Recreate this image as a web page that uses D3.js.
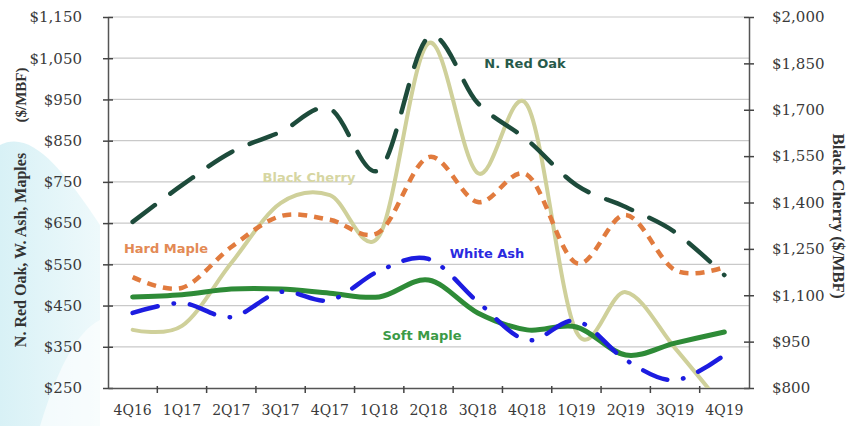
<!DOCTYPE html>
<html><head><meta charset="utf-8">
<script src="https://cdn.jsdelivr.net/npm/d3@7/dist/d3.min.js"></script>
<style>body{margin:0;background:#fff}svg{display:block}</style>
</head><body>
<svg id="c" width="867" height="426"></svg>
<script>
const quarters = ["4Q16","1Q17","2Q17","3Q17","4Q17","1Q18","2Q18","3Q18","4Q18","1Q19","2Q19","3Q19","4Q19"];
const redOak    = [653, 742, 822, 871, 927, 779, 1101, 941, 852, 742, 689, 628, 524];
const hardMaple = [519, 493, 592, 667, 658, 628, 810, 701, 767, 553, 670, 536, 543];
const whiteAsh  = [432, 456, 422, 483, 463, 534, 563, 459, 366, 413, 318, 269, 330];
const softMaple = [471, 476, 490, 490, 480, 471, 512, 432, 391, 398, 330, 359, 386];
const blackCherry = [988, 1001, 1204, 1398, 1424, 1292, 1915, 1495, 1715, 981, 1110, 929, 735];
const leftTicks = [250,350,450,550,650,750,850,950,1050,1150];
const rightTicks = [800,950,1100,1250,1400,1550,1700,1850,2000];

const svg = d3.select("#c");
const L = 108, R = 749, T = 17, B = 388;

// decorative background wash
const defs = svg.append("defs");
const g1 = defs.append("linearGradient").attr("id","wash").attr("x1","0").attr("y1","0").attr("x2","1").attr("y2","0");
g1.append("stop").attr("offset","0").attr("stop-color","#d8f1f6");
g1.append("stop").attr("offset","1").attr("stop-color","#eef9fb");
svg.append("path").attr("d","M0,145 C30,130 60,165 100,225 L100,426 L0,426 Z").attr("fill","url(#wash)");
svg.append("path").attr("d","M40,426 C60,360 80,330 100,320 L100,426 Z").attr("fill","#ffffff").attr("opacity",0.6);

defs.append("clipPath").attr("id","plot").append("rect").attr("x",L).attr("y",T-10).attr("width",R-L).attr("height",B-T+10);

const x = d3.scaleBand().domain(quarters).range([L,R]);
const xc = q => x(q) + x.bandwidth()/2;
const yL = d3.scaleLinear().domain([250,1150]).range([B,T]);
const yR = d3.scaleLinear().domain([800,2000]).range([B,T]);

// gridlines
svg.append("g").selectAll("line").data(leftTicks.slice(1)).join("line")
  .attr("x1",L).attr("x2",R).attr("y1",d=>yL(d)).attr("y2",d=>yL(d))
  .attr("stroke","#c9c9c9").attr("stroke-width",1.2);

const fmt = d => "$" + d3.format(",")(d);
const tickFont = "DejaVu Serif";

// left axis
const la = svg.append("g").attr("transform",`translate(${L},0)`)
  .call(d3.axisLeft(yL).tickValues(leftTicks).tickFormat(fmt).tickSizeInner(5).tickSizeOuter(0).tickPadding(20));
la.select(".domain").attr("stroke","#555").attr("stroke-width",1.5);
la.selectAll(".tick line").attr("x2",5).attr("x1",-5).attr("stroke","#444").attr("stroke-width",1.5);
la.selectAll("text").attr("font-family",tickFont).attr("font-size",15).attr("fill","#3a3a3a").attr("dx",-1);

// right axis
const ra = svg.append("g").attr("transform",`translate(${R},0)`)
  .call(d3.axisRight(yR).tickValues(rightTicks).tickFormat(fmt).tickSizeInner(5).tickSizeOuter(0).tickPadding(18));
ra.select(".domain").attr("stroke","#555").attr("stroke-width",1.5);
ra.selectAll(".tick line").attr("x1",-5).attr("x2",5).attr("stroke","#444").attr("stroke-width",1.5);
ra.selectAll("text").attr("font-family",tickFont).attr("font-size",15).attr("fill","#3a3a3a");

// bottom axis
const ba = svg.append("g").attr("transform",`translate(0,${B})`)
  .call(d3.axisBottom(x).tickSize(0).tickPadding(17));
ba.select(".domain").attr("stroke","#555").attr("stroke-width",1.5);
ba.selectAll("text").attr("font-family",tickFont).attr("font-size",14).attr("fill","#3a3a3a");
svg.append("g").selectAll("line").data(quarters.slice(1)).join("line")
  .attr("x1",d=>x(d)).attr("x2",d=>x(d)).attr("y1",B-2).attr("y2",B+5)
  .attr("stroke","#444").attr("stroke-width",1.5);

// series
const plot = svg.append("g").attr("clip-path","url(#plot)");
const curve = d3.curveCardinal.tension(0);
function draw(vals, scale, color, width, dash, cap){
  const line = d3.line().x((d,i)=>xc(quarters[i])).y(d=>scale(d)).curve(curve);
  plot.append("path").datum(vals).attr("d",line).attr("fill","none")
    .attr("stroke",color).attr("stroke-width",width)
    .attr("stroke-dasharray",dash).attr("stroke-linecap",cap);
}
draw(blackCherry, yR, "#cfd09a", 4, null, "round");
draw(softMaple, yL, "#2e8b37", 5, null, "round");
draw(hardMaple, yL, "#e17b3e", 4.5, "9 7", "butt");
draw(whiteAsh, yL, "#1c1ce0", 4.5, "26 16 0.5 16", "round");
draw(redOak, yL, "#1d4b3b", 4.5, "28 19", "round");

// series labels
const labs = [
  {t:"N. Red Oak", x:525, y:63, c:"#275a4a"},
  {t:"Black Cherry", x:309, y:177, c:"#d6d6a2"},
  {t:"Hard Maple", x:166, y:248, c:"#e38a55"},
  {t:"White Ash", x:487, y:253, c:"#2a2ae0"},
  {t:"Soft Maple", x:422, y:335, c:"#3b9a46"}
];
svg.append("g").selectAll("text").data(labs).join("text")
  .attr("x",d=>d.x).attr("y",d=>d.y).attr("dy","0.35em").attr("text-anchor","middle")
  .attr("font-family","DejaVu Sans").attr("font-weight","bold").attr("font-size",13)
  .attr("fill",d=>d.c).text(d=>d.t);

// axis titles
svg.append("text").attr("transform","translate(26,250) rotate(-90)").attr("text-anchor","middle")
  .attr("font-family","Liberation Serif").attr("font-weight","bold").attr("font-size",16).attr("fill","#333")
  .text("N. Red Oak, W. Ash, Maples");
svg.append("text").attr("transform","translate(26,95) rotate(-90)").attr("text-anchor","middle")
  .attr("font-family","Liberation Serif").attr("font-weight","bold").attr("font-size",15).attr("fill","#333")
  .text("($/MBF)");
svg.append("text").attr("transform","translate(833,216) rotate(90)").attr("text-anchor","middle")
  .attr("font-family","Liberation Serif").attr("font-weight","bold").attr("font-size",17).attr("fill","#333")
  .text("Black Cherry  ($/MBF)");
</script>
</body></html>
